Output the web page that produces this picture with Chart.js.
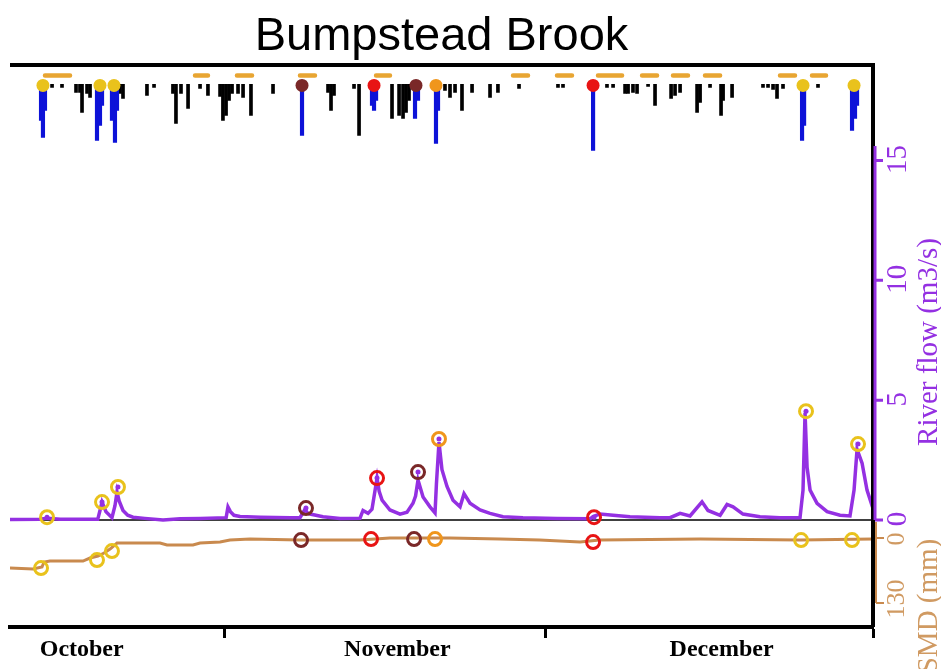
<!DOCTYPE html>
<html>
<head>
<meta charset="utf-8">
<script src="https://cdn.jsdelivr.net/npm/chart.js@4/dist/chart.umd.min.js"></script>
<style>
  html, body { margin: 0; padding: 0; background: #fff; }
  #wrap { width: 941px; height: 669px; }
</style>
</head>
<body>
<div id="wrap"><canvas id="chart"></canvas></div>
<script>
// time axis is in days counted from 1 October (Nov 1 = 31, Dec 1 = 61)
const monthNames = ['October', 'November', 'December']
const monthLabelDays = [17.7, 47.2, 77.5]
const monthStartDays = [31, 61]
const dayMin = 11
const dayMax = 91.65

// river flow (m3/s)
const flowDays = [11.0, 13.8, 14.46, 15.7, 19.2, 19.41, 19.6, 19.97, 20.53, 20.81, 21.0, 21.2, 21.56, 22.0, 22.5, 23.6, 25.3, 26.9, 28.8, 31.2, 31.37, 31.6, 31.93, 32.5, 34.4, 37.2, 38.1, 38.57, 38.8, 39.04, 40.25, 41.84, 43.71, 43.99, 44.46, 44.83, 45.3, 45.5, 45.77, 46.51, 47.45, 48.1, 48.66, 48.9, 49.13, 49.6, 50.25, 50.72, 50.85, 51.09, 51.37, 51.84, 52.4, 53.06, 53.43, 53.99, 54.93, 55.86, 57.07, 58.94, 62.12, 65.21, 65.49, 66.14, 67.36, 68.94, 71.75, 72.68, 73.62, 74.55, 75.67, 76.23, 77.36, 78.01, 78.57, 79.5, 81.09, 82.96, 84.83, 85.11, 85.3, 85.49, 85.77, 86.42, 87.36, 88.57, 89.5, 89.88, 90.16, 90.63, 91.09, 91.6]
const flowValues = [0.02, 0.03, 0.08, 0.03, 0.03, 0.4, 0.75, 0.35, 0.1, 0.6, 1.17, 0.8, 0.4, 0.2, 0.12, 0.07, 0.0, 0.05, 0.07, 0.1, 0.55, 0.35, 0.2, 0.15, 0.12, 0.1, 0.1, 0.45, 0.3, 0.25, 0.14, 0.07, 0.08, 0.4, 0.28, 0.45, 1.75, 1.2, 0.83, 0.42, 0.25, 0.33, 0.7, 1.0, 1.67, 0.96, 0.55, 0.3, 1.5, 3.25, 2.1, 1.4, 0.83, 0.55, 1.1, 0.7, 0.42, 0.28, 0.14, 0.1, 0.07, 0.05, 0.15, 0.25, 0.2, 0.14, 0.1, 0.1, 0.28, 0.17, 0.76, 0.4, 0.2, 0.65, 0.55, 0.25, 0.14, 0.1, 0.1, 1.25, 4.47, 2.2, 1.25, 0.7, 0.35, 0.2, 0.17, 1.25, 2.95, 2.37, 1.25, 0.55]

// soil moisture deficit (mm)
const smdDays = [11.0, 13.15, 13.99, 14.18, 14.74, 17.82, 18.48, 19.22, 19.79, 20.35, 21.0, 25.02, 25.67, 28.1, 28.76, 30.63, 31.56, 33.43, 38.1, 43.7, 46.5, 52.1, 56.8, 60.5, 64.27, 66.1, 75.5, 84.83, 91.6]
const smdValues = [60, 62, 58, 48, 46, 46, 40, 36, 30, 22, 10, 10, 14, 14, 10, 8, 4, 2, 4, 4, 0, 0, 2, 4, 8, 4, 2, 4, 2]

// rainfall (mm) - black bars, and blue bars for the marked events
const rainDays = [14.93, 15.86, 17.17, 17.54, 17.73, 18.2, 18.48, 21.28, 21.56, 23.8, 24.46, 26.23, 26.51, 26.98, 27.64, 28.76, 29.5, 30.63, 30.9, 31.19, 31.47, 31.75, 32.31, 32.78, 33.52, 35.58, 40.72, 41.0, 41.28, 43.15, 43.62, 46.7, 47.36, 47.73, 48.01, 48.29, 51.65, 52.12, 52.59, 53.24, 54.18, 55.86, 56.6, 58.57, 62.21, 62.68, 66.79, 67.36, 68.48, 68.76, 69.22, 69.6, 70.63, 71.28, 72.78, 73.15, 73.62, 75.21, 75.49, 76.42, 77.45, 77.64, 78.48, 81.37, 81.84, 82.31, 82.68, 83.24, 86.51]
const rainValues = [0.75, 0.75, 2, 2, 7, 2.25, 3.25, 2.25, 3.5, 2.75, 0.75, 2.25, 9.75, 2.25, 6, 1, 2.75, 3, 9, 7.75, 4, 2.25, 2.25, 3.25, 7.75, 2.25, 2, 6.5, 2.75, 1, 12.75, 8.5, 7.75, 8.5, 7, 4, 1.5, 3.25, 2, 6.5, 2, 3.25, 2, 1, 0.75, 0.75, 0.75, 0.75, 2.25, 2.25, 2, 2.25, 0.5, 5.25, 3.5, 2.75, 2, 7, 4.5, 0.75, 7.75, 4, 3.25, 0.75, 0.75, 1.25, 3.5, 1, 0.75]
const eventRainDays = [13.9, 14.08, 14.27, 19.13, 19.41, 19.6, 20.53, 20.81, 21.0, 38.29, 44.83, 45.02, 45.21, 48.85, 49.13, 50.81, 51.0, 65.49, 85.02, 85.21, 89.69, 89.97, 90.16]
const eventRainValues = [9, 13.25, 6.5, 14, 10.25, 5.25, 9, 14.5, 6.5, 12.75, 5.25, 6.5, 4, 8.5, 4, 14.75, 6.5, 16.5, 14, 10.25, 11.5, 8.5, 5.25]

// events: day of the rain marker, colour class, flow at peak, SMD at start
const eventDays = [14.08, 19.41, 20.72, 38.29, 45.02, 48.94, 50.81, 65.49, 85.11, 89.88]
const eventTypes = ['gold', 'gold', 'gold', 'brown', 'red', 'brown', 'orange', 'red', 'gold', 'gold']
const eventFlowDays = [14.46, 19.6, 21.09, 38.66, 45.3, 49.13, 51.09, 65.58, 85.39, 90.25]
const eventFlowValues = [0.12, 0.75, 1.38, 0.5, 1.75, 2.0, 3.38, 0.12, 4.54, 3.17]
const eventSmdDays = [13.9, 19.13, 20.53, 38.2, 44.74, 48.76, 50.72, 65.49, 84.93, 89.69]
const eventSmdValues = [60, 44, 26, 4, 2, 2, 2, 8, 4, 4]

// orange dashes above the rain (start, end day)
const dashStarts = [14.27, 28.29, 32.21, 38.1, 45.21, 58.01, 62.12, 65.95, 70.07, 72.96, 75.95, 82.96, 85.95]
const dashEnds = [16.61, 29.5, 33.62, 39.5, 46.51, 59.41, 63.52, 68.2, 71.47, 74.36, 77.36, 84.36, 87.26]

const flowTicks = [0, 5, 10, 15]
const smdTicks = [0, 130]

const eventColours = { gold: '#e9c21c', brown: '#7a2828', red: '#e81414', orange: '#f0961c' }
const purple = '#9430e2'
const smdBrown = '#c98a4e'
const smdLabel = '#d09a62'

const toPoints = (xs, ys) => xs.map((x, i) => ({ x: x, y: ys[i] }))

const dashPoints = []
dashStarts.forEach((s, i) => {
    dashPoints.push({ x: s, y: -2.25 })
    dashPoints.push({ x: dashEnds[i], y: -2.25 })
    dashPoints.push({ x: (dashEnds[i] + (dashStarts[i + 1] || dayMax)) / 2, y: null })
})

const eventCols = eventTypes.map(t => eventColours[t])

const framePlugin = {
    id: 'frame',
    beforeDatasetsDraw(chart) {
        const { ctx, chartArea: a, scales } = chart
        const y0 = scales.yFlow.getPixelForValue(0)
        ctx.save()
        ctx.strokeStyle = '#000'
        ctx.lineWidth = 1.5
        ctx.beginPath()
        ctx.moveTo(a.left, y0)
        ctx.lineTo(a.right, y0)
        ctx.stroke()
        ctx.restore()
    },
    afterDraw(chart) {
        const { ctx, chartArea: a, scales } = chart
        const yF = scales.yFlow
        const yS = scales.ySmd
        ctx.save()

        // top and right frame
        ctx.strokeStyle = '#000'
        ctx.lineWidth = 4
        ctx.beginPath()
        ctx.moveTo(a.left, a.top - 1.5)
        ctx.lineTo(a.right + 2, a.top - 1.5)
        ctx.moveTo(a.right, a.top - 3)
        ctx.lineTo(a.right, a.bottom)
        ctx.stroke()

        // river flow axis
        const ax = a.right + 2
        ctx.strokeStyle = purple
        ctx.lineWidth = 3
        ctx.beginPath()
        ctx.moveTo(ax, yF.getPixelForValue(15.6))
        ctx.lineTo(ax, yF.getPixelForValue(0))
        flowTicks.forEach(v => {
            const y = yF.getPixelForValue(v)
            ctx.moveTo(ax, y)
            ctx.lineTo(ax + 8, y)
        })
        ctx.stroke()

        ctx.fillStyle = purple
        ctx.textAlign = 'center'
        ctx.textBaseline = 'middle'
        ctx.font = '29px "Liberation Serif", "Times New Roman", serif'
        flowTicks.forEach(v => {
            ctx.save()
            ctx.translate(ax + 23, yF.getPixelForValue(v) - 1)
            ctx.rotate(-Math.PI / 2)
            ctx.fillText(String(v), 0, 0)
            ctx.restore()
        })
        ctx.save()
        ctx.translate(ax + 54, 342)
        ctx.rotate(-Math.PI / 2)
        ctx.fillText('River flow (m3/s)', 0, 0)
        ctx.restore()

        // SMD axis
        ctx.strokeStyle = smdBrown
        ctx.lineWidth = 2
        ctx.beginPath()
        ctx.moveTo(ax + 1, yF.getPixelForValue(0) + 2)
        ctx.lineTo(ax + 1, yS.getPixelForValue(130))
        smdTicks.forEach(v => {
            const y = yS.getPixelForValue(v)
            ctx.moveTo(ax + 1, y)
            ctx.lineTo(ax + 9, y)
        })
        ctx.stroke()

        ctx.fillStyle = smdLabel
        ctx.font = '26px "Liberation Serif", "Times New Roman", serif'
        smdTicks.forEach(v => {
            ctx.save()
            ctx.translate(ax + 22, yS.getPixelForValue(v) + (v === 0 ? 1 : -4))
            ctx.rotate(-Math.PI / 2)
            ctx.fillText(String(v), 0, 0)
            ctx.restore()
        })
        ctx.font = '29px "Liberation Serif", "Times New Roman", serif'
        ctx.save()
        ctx.translate(ax + 54, 606)
        ctx.rotate(-Math.PI / 2)
        ctx.fillText('SMD (mm)', 0, 0)
        ctx.restore()

        ctx.restore()
    }
}

new Chart(document.getElementById('chart'), {
    type: 'scatter',
    data: {
        datasets: [
            {
                type: 'scatter',
                label: 'rain events',
                data: toPoints(eventDays, eventDays.map(() => 0.25)),
                yAxisID: 'yRain',
                pointRadius: 6.5,
                pointBackgroundColor: eventCols,
                pointBorderWidth: 0,
                order: 0
            },
            {
                type: 'scatter',
                label: 'flow events',
                data: toPoints(eventFlowDays, eventFlowValues),
                yAxisID: 'yFlow',
                pointRadius: 6.5,
                pointBorderWidth: 3,
                pointBorderColor: eventCols,
                pointBackgroundColor: 'rgba(0,0,0,0)',
                order: 1
            },
            {
                type: 'scatter',
                label: 'flow event centres',
                data: toPoints(eventFlowDays, eventFlowValues),
                yAxisID: 'yFlow',
                pointRadius: 2.5,
                pointBorderWidth: 0,
                pointBackgroundColor: purple,
                order: 2
            },
            {
                type: 'scatter',
                label: 'smd events',
                data: toPoints(eventSmdDays, eventSmdValues),
                yAxisID: 'ySmd',
                pointRadius: 6.5,
                pointBorderWidth: 3,
                pointBorderColor: eventCols,
                pointBackgroundColor: 'rgba(0,0,0,0)',
                order: 3
            },
            {
                type: 'line',
                label: 'River flow',
                data: toPoints(flowDays, flowValues),
                yAxisID: 'yFlow',
                borderColor: purple,
                borderWidth: 3.5,
                pointRadius: 0,
                tension: 0,
                order: 5
            },
            {
                type: 'line',
                label: 'SMD',
                data: toPoints(smdDays, smdValues),
                yAxisID: 'ySmd',
                borderColor: smdBrown,
                borderWidth: 3,
                pointRadius: 0,
                tension: 0,
                order: 6
            },
            {
                type: 'line',
                label: 'dashes',
                data: dashPoints,
                yAxisID: 'yRain',
                borderColor: '#e8a532',
                borderWidth: 4.5,
                borderCapStyle: 'round',
                pointRadius: 0,
                spanGaps: false,
                order: 7
            },
            {
                type: 'bar',
                label: 'event rain',
                data: toPoints(eventRainDays, eventRainValues),
                yAxisID: 'yRain',
                backgroundColor: '#0d12d8',
                barThickness: 3.5,
                grouped: false,
                order: 8
            },
            {
                type: 'bar',
                label: 'rain',
                data: toPoints(rainDays, rainValues),
                yAxisID: 'yRain',
                backgroundColor: '#000',
                barThickness: 3,
                grouped: false,
                order: 9
            }
        ]
    },
    options: {
        responsive: true,
        maintainAspectRatio: false,
        animation: false,
        layout: { padding: { left: 10, right: 68, top: 0, bottom: 7 } },
        plugins: {
            legend: { display: false },
            tooltip: { enabled: false },
            title: {
                display: true,
                text: 'Bumpstead Brook',
                color: '#000',
                font: { family: '"Liberation Sans", Arial, sans-serif', size: 47, weight: 'normal', lineHeight: 1.2 },
                padding: { top: 9, bottom: 1 }
            }
        },
        scales: {
            x: {
                type: 'linear',
                offset: false,
                min: dayMin,
                max: dayMax,
                afterBuildTicks: axis => {
                    const vals = monthLabelDays.concat(monthStartDays, [dayMax]).sort((p, q) => p - q)
                    axis.ticks = vals.map(v => ({ value: v }))
                },
                ticks: {
                    autoSkip: false,
                    maxRotation: 0,
                    padding: 0,
                    color: '#000',
                    font: { family: '"Liberation Serif", "Times New Roman", serif', size: 24, weight: 'bold', lineHeight: 1 },
                    callback: v => {
                        const i = monthLabelDays.indexOf(v)
                        return i >= 0 ? monthNames[i] : ''
                    }
                },
                grid: {
                    offset: false,
                    drawOnChartArea: false,
                    drawTicks: true,
                    tickLength: 11,
                    tickWidth: 3,
                    tickColor: c => (c.tick && monthLabelDays.indexOf(c.tick.value) < 0) ? '#000' : 'rgba(0,0,0,0)'
                },
                border: { display: true, color: '#000', width: 4 }
            },
            yRain: { type: 'linear', display: false, reverse: true, min: -4.5, max: 135.75 },
            yFlow: { type: 'linear', display: false, min: -4.46, max: 18.92 },
            ySmd: { type: 'linear', display: false, reverse: true, min: -944, max: 178 }
        }
    },
    plugins: [framePlugin]
})
</script>
</body>
</html>
